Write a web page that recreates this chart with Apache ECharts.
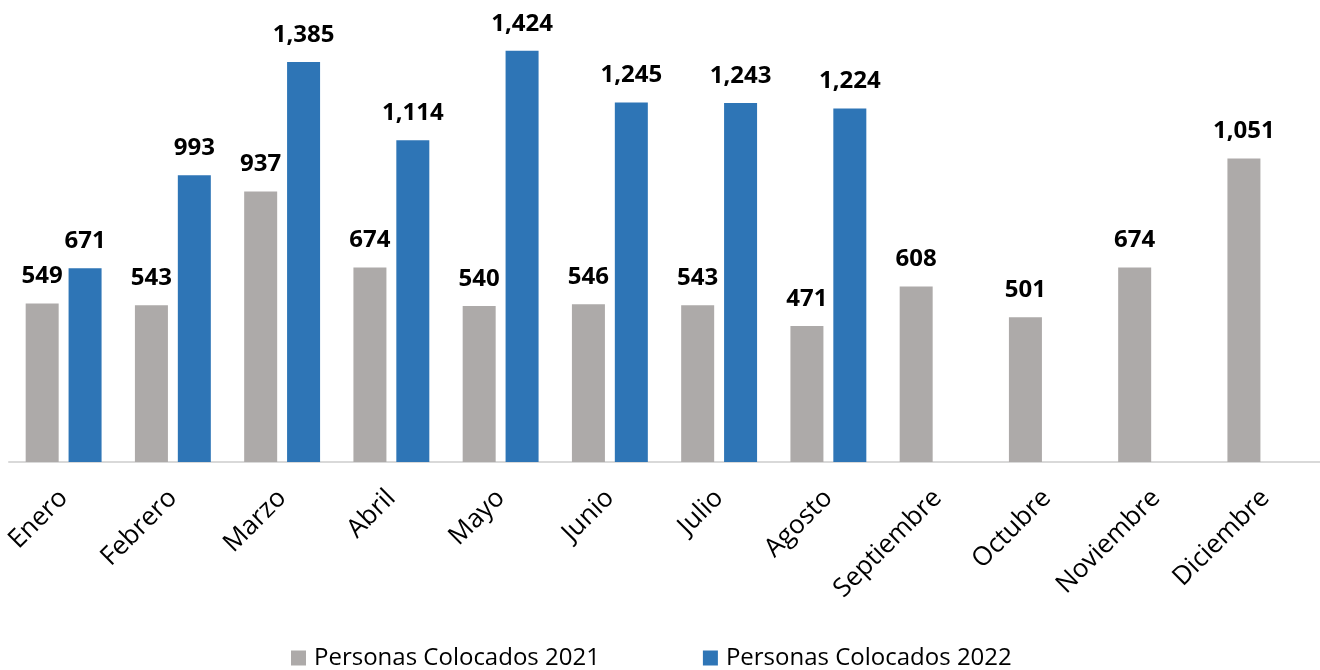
<!DOCTYPE html>
<html>
<head>
<meta charset="utf-8">
<script src="https://cdn.jsdelivr.net/npm/echarts@6/dist/echarts.min.js"></script>
<style>html,body{margin:0;padding:0;background:#fff}#c{width:1320px;height:670px}</style>
</head>
<body>
<div id="c"></div>
<script>
const months = ['Enero','Febrero','Marzo','Abril','Mayo','Junio','Julio','Agosto','Septiembre','Octubre','Noviembre','Diciembre'];
const serie2021 = [549,543,937,674,540,546,543,471,608,501,674,1051];
const serie2022 = [671,993,1385,1114,1424,1245,1243,1224,null,null,null,null];
const name2021 = 'Personas Colocados 2021';
const name2022 = 'Personas Colocados 2022';

const chart = echarts.init(document.getElementById('c'));
const fmt = p => p.value == null ? '' : p.value.toLocaleString('en-US');
const labelStyle = {show:true, position:'top', distance:15, fontFamily:'Open Sans', fontWeight:'bold', fontSize:24, color:'#000', formatter:fmt};
chart.setOption({
  animation:false,
  textStyle:{fontFamily:'Open Sans'},
  grid:{left:9, width:1317, top:0, height:462},
  legend:{bottom:-5, left:286, itemWidth:15, itemHeight:15, itemGap:103, icon:'rect',
    textStyle:{fontSize:24, color:'#000', fontFamily:'Open Sans', padding:[0,0,0,3]}, data:[name2021,name2022]},
  xAxis:{type:'category', data:months,
    axisLine:{lineStyle:{color:'#D9D9D9', width:2}}, axisTick:{show:false},
    axisLabel:{rotate:45, fontSize:26, color:'#000', margin:32, interval:0, fontFamily:'Open Sans'}},
  yAxis:{type:'value', min:0, max:1600, show:false, splitLine:{show:false}},
  series:[
    {name:name2021, type:'bar', data:serie2021, barWidth:33, barGap:'30%', itemStyle:{color:'#ADAAA9'}, label:labelStyle},
    {name:name2022, type:'bar', data:serie2022, barWidth:33, itemStyle:{color:'#2E75B6'}, label:labelStyle}
  ]
});
</script>
</body>
</html>
